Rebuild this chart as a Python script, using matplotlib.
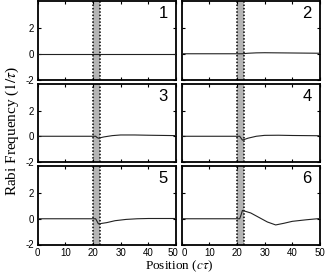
import numpy as np
import matplotlib
matplotlib.use("Agg")
import matplotlib.pyplot as plt
import matplotlib.transforms as mtransforms

plt.rcParams['axes.unicode_minus'] = False
plt.rcParams['mathtext.fontset'] = 'stix'

# positions (c tau) and Rabi frequency (1/tau)
x_flat = [0, 20, 21, 22, 30, 40, 50]
y1 = [0, 0, 0, 0, 0, 0, 0]

x2 = [0, 20, 21, 22, 24, 27, 30, 40, 50]
y2 = [0, 0, 0, 0.0, 0.04, 0.07, 0.08, 0.06, 0.04]

x3 = [0, 20, 21, 21.5, 22, 24, 27, 30, 35, 40, 50]
y3 = [0, 0, 0, -0.1, -0.15, -0.05, 0.05, 0.1, 0.1, 0.08, 0.05]

x4 = [0, 20, 21, 21.5, 22, 24, 27, 30, 35, 40, 50]
y4 = [0, 0, 0, -0.15, -0.3, -0.15, 0.0, 0.07, 0.08, 0.06, 0.04]

x5 = [0, 20, 21, 21.5, 22, 25, 28, 32, 36, 40, 50]
y5 = [0, 0, 0, -0.2, -0.4, -0.3, -0.15, -0.05, 0.0, 0.02, 0.02]

x6 = [0, 20, 21, 21.5, 22, 25, 28, 31, 34, 37, 40, 45, 50]
y6 = [0, 0, 0, 0.3, 0.65, 0.45, 0.1, -0.25, -0.48, -0.35, -0.2, -0.08, 0.02]

panels = [(x_flat, y1), (x2, y2), (x3, y3), (x4, y4), (x5, y5), (x6, y6)]
band = (20, 22.5)
xticks = [0, 10, 20, 30, 40, 50]
yticks = [-2, 0, 2]

W, H = 325, 277
fig = plt.figure(figsize=(W / 100, H / 100), dpi=100)

cols = [37.5, 181.5]
colw = 138.5
rows = [1, 83.5, 166]
rowh = 78.5

for i, (xs, ys) in enumerate(panels):
    r, c = divmod(i, 2)
    left = cols[c] / W
    bottom = 1 - (rows[r] + rowh) / H
    ax = fig.add_axes([left, bottom, colw / W, rowh / H])
    ax.axvspan(band[0], band[1], color='#b4b4b4', lw=0, zorder=1)
    ax.axvline(band[0], color='black', ls=(0, (1, 1.2)), lw=1.1, zorder=2)
    ax.axvline(band[1], color='black', ls=(0, (1, 1.2)), lw=1.1, zorder=2)
    ax.plot(xs, ys, color='#222222', lw=0.8, zorder=3)
    ax.set_xlim(0, 50)
    ax.set_ylim(-2, 4.1)
    ax.set_xticks(xticks)
    ax.set_yticks(yticks)
    ax.tick_params(direction='in', length=2.5, width=0.8, top=True, right=True,
                   labelsize=7, pad=2.5)
    for t in ax.get_xticklabels() + ax.get_yticklabels():
        t.set_fontfamily('Liberation Sans')
    if c == 1:
        ax.set_yticklabels([])
    if r < 2:
        ax.set_xticklabels([])
    else:
        # nudge the labels where the two columns meet, as in the original
        labels = ax.get_xticklabels()
        if c == 0:
            off = mtransforms.ScaledTranslation(-3 / 100, 0, fig.dpi_scale_trans)
            labels[-1].set_transform(labels[-1].get_transform() + off)
        else:
            off = mtransforms.ScaledTranslation(2.5 / 100, 0, fig.dpi_scale_trans)
            labels[0].set_transform(labels[0].get_transform() + off)
    for s in ax.spines.values():
        s.set_linewidth(1.3)
    ax.text(0.94, 0.93, str(i + 1), transform=ax.transAxes, ha='right', va='top',
            fontsize=12, family='Liberation Sans')

fig.text(12 / W, 1 - 131 / H, r'Rabi Frequency ($1/\tau$)', rotation=90,
         ha='center', va='center', fontsize=11, family='Liberation Serif')
fig.text(179 / W, 1 - 266 / H, r'Position ($c\tau$)', ha='center', va='center',
         fontsize=9.5, family='Liberation Serif')

fig.savefig('out.png', dpi=100)
